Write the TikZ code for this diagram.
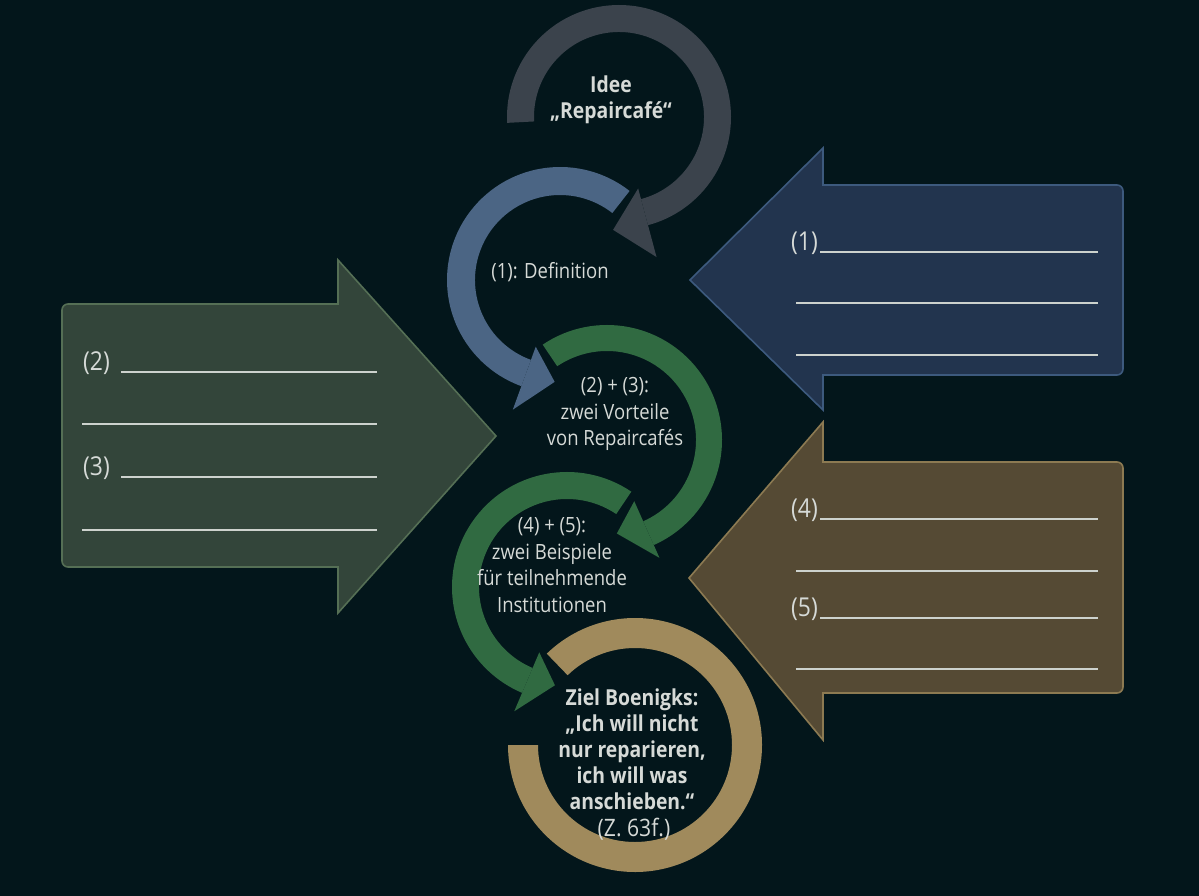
\documentclass[tikz,border=0pt]{standalone}
\usepackage{fontspec}
\setmainfont{Open Sans}[FakeStretch=0.88]
\usetikzlibrary{calc}
\definecolor{bg}{HTML}{03161B}
\definecolor{ringgray}{HTML}{3B434C}
\definecolor{ringblue}{HTML}{4B6584}
\definecolor{ringgreen}{HTML}{306A41}
\definecolor{ringgold}{HTML}{A08A5C}
\definecolor{bluefill}{HTML}{22344E}
\definecolor{blueedge}{HTML}{3D5A7E}
\definecolor{greenfill}{HTML}{33453A}
\definecolor{greenedge}{HTML}{556F55}
\definecolor{brownfill}{HTML}{554A34}
\definecolor{brownedge}{HTML}{8C7A52}
\definecolor{txt}{HTML}{D6DAD7}
\definecolor{rule}{HTML}{CDD2CD}
\tikzset{
  sidearrow/.style={line width=1.6pt},
  ruleline/.style={draw=rule, line width=1.6pt},
  ringtext/.style={text=txt, align=center, font=\fontsize{21}{26.5}\selectfont, inner sep=0pt},
  boldtext/.style={text=txt, align=center, font=\fontsize{22}{26}\selectfont\bfseries, inner sep=0pt},
  numlabel/.style={text=txt, font=\fontsize{26}{28}\selectfont, inner sep=0pt},
}
\begin{document}
\begin{tikzpicture}[x=1pt,y=1pt,yscale=-1]
\fill[bg] (0,0) rectangle (1199,896);
\useasboundingbox (0,0) rectangle (1199,896);

% ---------- side arrows ----------
% blue (pointing left)
\draw[sidearrow, draw=blueedge, fill=bluefill]
  (690,280) -- (823,148) -- (823,185) [rounded corners=6pt] -- (1123,185) -- (1123,375) [sharp corners] -- (823,375) -- (823,410) -- cycle;
% green (pointing right)
\draw[sidearrow, draw=greenedge, fill=greenfill]
  (496,436) -- (338,260) -- (338,304) [rounded corners=6pt] -- (62,304) -- (62,567) [sharp corners] -- (338,567) -- (338,613) -- cycle;
% brown (pointing left)
\draw[sidearrow, draw=brownedge, fill=brownfill]
  (689,578) -- (823,422) -- (823,462) [rounded corners=6pt] -- (1123,462) -- (1123,693) [sharp corners] -- (823,693) -- (823,740) -- cycle;

% rule lines
\draw[ruleline] (820,252) -- (1098,252);
\draw[ruleline] (796,303) -- (1098,303);
\draw[ruleline] (796,355) -- (1098,355);
\draw[ruleline] (121,372) -- (377,372);
\draw[ruleline] (82,424) -- (377,424);
\draw[ruleline] (121,477) -- (377,477);
\draw[ruleline] (82,530) -- (377,530);
\draw[ruleline] (820,519) -- (1098,519);
\draw[ruleline] (796,571) -- (1098,571);
\draw[ruleline] (820,618) -- (1098,618);
\draw[ruleline] (796,669) -- (1098,669);

\node[numlabel, anchor=base east] (l1) at (818,250) {(1)};
\node[numlabel, anchor=base west] (l2) at (83,370) {(2)};
\node[numlabel, anchor=base west] (l3) at (83,475) {(3)};
\node[numlabel, anchor=base east] (l4) at (818,517) {(4)};
\node[numlabel, anchor=base east] (l5) at (818,616) {(5)};

% ---------- ring arrows ----------
\coordinate (cg) at (619,117);
\coordinate (cb) at (560,280);
\coordinate (cr1) at (607,440);
\coordinate (cr2) at (567,587);
\coordinate (cy) at (635,745);

% gray
\fill[ringgray] ($(cg)+(177:112)$) arc[start angle=177, end angle=435, radius=112]
  -- ($(cg)+(435:85)$) arc[start angle=435, end angle=177, radius=85] -- cycle;
\fill[ringgray] ($(cg)+(435:74)$) -- ($(cg)+(435:145)$) -- ($(cg)+(453:113)$) -- cycle;

% blue
\fill[ringblue] ($(cb)+(308:113)$) arc[start angle=308, end angle=110, radius=113]
  -- ($(cb)+(110:85)$) arc[start angle=110, end angle=308, radius=85] -- cycle;
\fill[ringblue] ($(cb)+(110:71)$) -- ($(cb)+(110:138)$) -- ($(cb)+(93:102)$) -- cycle;

% green 1
\fill[ringgreen] ($(cr1)+(236:115)$) arc[start angle=236, end angle=426, radius=115]
  -- ($(cr1)+(426:89)$) arc[start angle=426, end angle=236, radius=89] -- cycle;
\fill[ringgreen] ($(cr1)+(426:67)$) -- ($(cr1)+(426:129)$) -- ($(cr1)+(444:94)$) -- cycle;

% green 2
\fill[ringgreen] ($(cr2)+(304:115)$) arc[start angle=304, end angle=113, radius=115]
  -- ($(cr2)+(113:88)$) arc[start angle=113, end angle=304, radius=88] -- cycle;
\fill[ringgreen] ($(cr2)+(113:71)$) -- ($(cr2)+(113:135)$) -- ($(cr2)+(97:99)$) -- cycle;

% gold
\fill[ringgold] ($(cy)+(226:127)$) arc[start angle=226, end angle=540, radius=127]
  -- ($(cy)+(540:97)$) arc[start angle=540, end angle=226, radius=97] -- cycle;

% ---------- texts ----------
\node[boldtext] (idee) at (611,100) {Idee\\„Repaircafé“};
\node[ringtext] (def) at (550,272) {(1): Definition};
\node[ringtext] (vort) at (615,414) {(2) + (3):\\zwei Vorteile\\von Repaircafés};
\node[ringtext] (beisp) at (552,565) {(4) + (5):\\zwei Beispiele\\für teilnehmende\\Institutionen};
\node[boldtext] (ziel) at (632,749) {Ziel Boenigks:\\„Ich will nicht\\nur reparieren,\\ich will was\\anschieben.“};
\node[ringtext, anchor=base, font=\fontsize{24}{26}\selectfont] (zeile) at (634,836) {(Z. 63f.)};
\end{tikzpicture}
\end{document}
